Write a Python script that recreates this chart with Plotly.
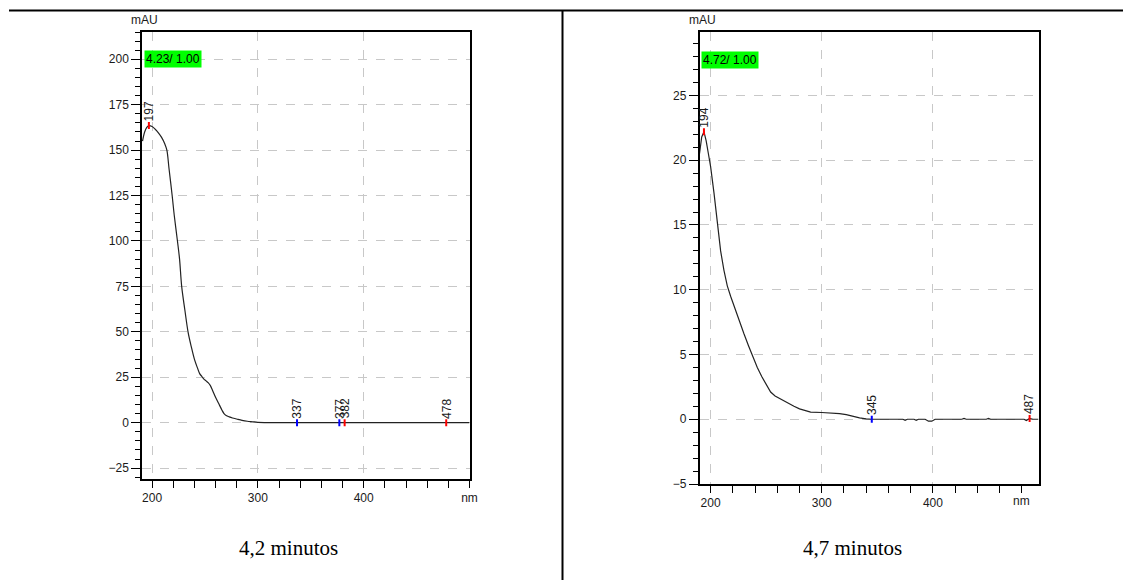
import plotly.graph_objects as go

# ---- data: spectrum at 4.2 min ----
wl_a = [191, 193, 195, 197, 200, 203, 206, 209, 212, 214, 216, 219, 221, 224, 226, 228, 231,
        234, 237, 240, 243, 245, 247, 249, 251, 253, 255, 257, 260, 263, 266, 268, 270, 273,
        276, 280, 285, 290, 295, 300, 320, 340, 360, 380, 400, 420, 440, 460, 480, 500]
abs_a = [155, 160, 162.5, 163.5, 163, 161.5, 159.5, 157, 153.5, 150, 140, 125, 114, 100, 90, 75, 62,
         50, 42, 35, 30, 27, 25.5, 24, 23, 22, 20.5, 18, 14, 10.5, 7, 5, 4, 3.2,
         2.6, 2, 1.3, 0.8, 0.5, 0.2, 0, 0, 0, 0, 0, 0, 0, 0, 0, 0]
peaks_a = [197, 337, 377, 382, 478]
peak_vals_a = [163.5, 0, 0, 0, 0]
peak_cols_a = ["red", "blue", "blue", "red", "red"]

# ---- data: spectrum at 4.7 min ----
wl_b = [190, 192, 194, 196, 198, 200, 203, 206, 209, 212, 215, 218, 222, 226, 230, 234, 238,
        242, 246, 250, 254, 258, 262, 266, 270, 275, 280, 285, 290, 300, 310, 316, 322, 328,
        334, 340, 345, 355, 365, 373, 375, 377, 383, 385, 387, 393, 396, 399, 402, 410, 426,
        428, 430, 448, 450, 452, 470, 482, 484, 486, 487, 490, 495]
abs_b = [20.5, 21.8, 22.2, 21.5, 20.5, 19.5, 17.5, 15, 13, 11.5, 10.3, 9.5, 8.5, 7.5, 6.6, 5.7, 4.8,
         4, 3.3, 2.7, 2.1, 1.8, 1.6, 1.4, 1.2, 1.0, 0.8, 0.65, 0.55, 0.52, 0.48, 0.44, 0.35, 0.2,
         0.1, 0.03, 0, 0, 0, 0, -0.08, 0, 0, -0.08, 0, 0, -0.15, -0.15, 0, 0, 0,
         0.06, 0, 0, 0.06, 0, 0, 0, -0.1, 0, 0.06, 0, 0]
peaks_b = [194, 345, 487]
peak_vals_b = [22.2, 0, 0.06]
peak_cols_b = ["red", "blue", "red"]

badge_a = "4.23/ 1.00"
badge_b = "4.72/ 1.00"
captions = ["4,2 minutos", "4,7 minutos"]

W, H = 1131, 580
OFF = 8  # page body margin shifts the figure by this many pixels

def px(x):
    return (x - OFF) / W

def py(y):
    return 1 - (y - OFF) / H

FONT = "Liberation Sans, Arial, sans-serif"
fig = go.Figure()

fig.add_trace(go.Scatter(x=wl_a, y=abs_a, mode="lines", line=dict(color="#222", width=1.2),
                         xaxis="x", yaxis="y", showlegend=False, line_shape="spline"))
fig.add_trace(go.Scatter(x=peaks_a, y=peak_vals_a, mode="markers",
                         marker=dict(symbol="line-ns", size=5, line=dict(width=2, color=peak_cols_a)),
                         xaxis="x", yaxis="y", showlegend=False))
fig.add_trace(go.Scatter(x=wl_b, y=abs_b, mode="lines", line=dict(color="#222", width=1.2),
                         xaxis="x2", yaxis="y2", showlegend=False))
fig.add_trace(go.Scatter(x=peaks_b, y=peak_vals_b, mode="markers",
                         marker=dict(symbol="line-ns", size=5, line=dict(width=2, color=peak_cols_b)),
                         xaxis="x2", yaxis="y2", showlegend=False))

axis_common = dict(showline=True, linecolor="black", linewidth=1.5, mirror=True, automargin=False,
                   ticks="outside", tickcolor="black", tickfont=dict(family=FONT, size=12, color="#1a1a1a"),
                   showgrid=True, gridcolor="#c8c8c8", griddash="dash", gridwidth=1, zeroline=False)

fig.update_layout(
    template="none",
    width=W, height=H, margin=dict(l=0, r=0, t=0, b=0, autoexpand=False),
    paper_bgcolor="white", plot_bgcolor="white", showlegend=False,
    xaxis=dict(domain=[px(142), px(469.5)], range=[190.5, 500], anchor="y",
               tickvals=[200, 300, 400, 500], ticktext=["200", "300", "400", "nm"],
               ticklen=7, minor=dict(dtick=20, tick0=200, ticks="outside", ticklen=7, tickcolor="black", showgrid=False),
               **axis_common),
    yaxis=dict(domain=[py(479), py(32)], range=[-31, 215], anchor="x",
               dtick=25, tick0=0, ticklen=9,
               minor=dict(dtick=5, tick0=0, ticks="outside", ticklen=5, tickcolor="black", showgrid=False),
               **axis_common),
    xaxis2=dict(domain=[px(699.5), px(1038.5)], range=[190, 495], anchor="y2",
                tickvals=[200, 300, 400], ticktext=["200", "300", "400"],
                ticklen=7, minor=dict(dtick=20, tick0=200, ticks="outside", ticklen=7, tickcolor="black", showgrid=False),
                **axis_common),
    yaxis2=dict(domain=[py(484), py(32)], range=[-5, 29.9], anchor="x2",
                dtick=5, tick0=0, ticklen=9,
                minor=dict(dtick=1, tick0=0, ticks="outside", ticklen=5, tickcolor="black", showgrid=False),
                **axis_common),
)

ann = []
# mAU labels
for xp in (144, 702):
    ann.append(dict(x=px(xp), y=py(29), xref="paper", yref="paper", text="mAU", showarrow=False,
                    xanchor="center", yanchor="bottom", font=dict(family=FONT, size=12, color="#1a1a1a")))
# nm label for right chart (at 480 tick)
ann.append(dict(x=480, y=py(484), xref="x2", yref="paper", text="nm", showarrow=False,
                xanchor="center", yanchor="top", yshift=-8, font=dict(family=FONT, size=12, color="#1a1a1a")))
# badges
ann.append(dict(x=px(144), y=200, xref="paper", yref="y", text=badge_a, showarrow=False,
                xanchor="left", yanchor="middle", bgcolor="#00ff00", borderpad=1,
                font=dict(family=FONT, size=12, color="black")))
ann.append(dict(x=px(701), y=27.7, xref="paper", yref="y2", text=badge_b, showarrow=False,
                xanchor="left", yanchor="middle", bgcolor="#00ff00", borderpad=1,
                font=dict(family=FONT, size=12, color="black")))
# peak labels
for w, v in zip(peaks_a, peak_vals_a):
    ann.append(dict(x=w, y=v, xref="x", yref="y", text=str(w), showarrow=False, textangle=-90,
                    xanchor="center", yanchor="bottom", yshift=2, font=dict(family=FONT, size=12, color="#1a1a1a")))
for w, v in zip(peaks_b, peak_vals_b):
    ann.append(dict(x=w, y=v, xref="x2", yref="y2", text=str(w), showarrow=False, textangle=-90,
                    xanchor="center", yanchor="bottom", yshift=2, font=dict(family=FONT, size=12, color="#1a1a1a")))
# captions
for xp, t in zip((288, 852), captions):
    ann.append(dict(x=px(xp), y=py(548), xref="paper", yref="paper", text=t, showarrow=False,
                    xanchor="center", yanchor="middle",
                    font=dict(family="Liberation Serif, Times New Roman, serif", size=21, color="black")))
fig.update_layout(annotations=ann)

# table frame lines
fig.update_layout(shapes=[
    dict(type="line", xref="paper", yref="paper", x0=px(9), x1=1, y0=py(10.5), y1=py(10.5),
         line=dict(color="black", width=2)),
    dict(type="line", xref="paper", yref="paper", x0=px(562.5), x1=px(562.5), y0=0, y1=py(10.5),
         line=dict(color="black", width=2)),
])

fig.write_html("out.html")
